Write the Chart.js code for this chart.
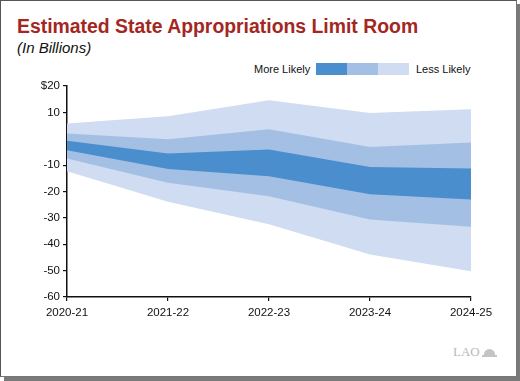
<!DOCTYPE html>
<html>
<head>
<meta charset="utf-8">
<script src="https://cdn.jsdelivr.net/npm/chart.js@4.4.1/dist/chart.umd.min.js"></script>
<style>
  html, body { margin: 0; padding: 0; background: #ffffff; }
  body { width: 520px; height: 381px; position: relative; overflow: hidden; font-family: "Liberation Sans", Arial, Helvetica, sans-serif; }
  #shadow { position: absolute; left: 4px; top: 4px; width: 516px; height: 377px; background: #7a7a7a; }
  #card { position: absolute; left: 0; top: 0; background: #fff; border-top: 1px solid #555; border-left: 1px solid #555; border-right: 1px solid #777; border-bottom: 1px solid #777; box-sizing: border-box; width: 517px; height: 377px; }
  #title { position: absolute; left: 17px; top: 15px; font-size: 19.4px; font-weight: bold; color: #A3271F; white-space: nowrap; }
  #subtitle { position: absolute; left: 17px; top: 39px; font-size: 15px; font-style: italic; color: #111; white-space: nowrap; }
  #legend { position: absolute; top: 62px; left: 254px; font-size: 11px; color: #111; white-space: nowrap; }
  #legend span { position: absolute; top: 1px; }
  .sw { position: absolute; top: 1px; height: 12px; width: 31px; }
  #lao { position: absolute; left: 453px; top: 344px; font-family: "Liberation Serif", "DejaVu Serif", serif; font-size: 13px; color: #b8b8b8; }
  #laoicon { position: absolute; left: 484px; top: 349px; width: 11px; height: 6px; border-top-left-radius: 6px 6px; border-top-right-radius: 6px 6px; background: #c4c4c4; }
  #laobase { position: absolute; left: 482px; top: 355px; width: 15px; height: 2px; background: #c4c4c4; }
  canvas { position: absolute; left: 0; top: 0; }
</style>
</head>
<body>
<div id="shadow"></div>
<div id="card"></div>
<div id="title">Estimated State Appropriations Limit Room</div>
<div id="subtitle">(In Billions)</div>
<div id="legend">
  <span style="left:0px;">More Likely</span>
  <div class="sw" style="left:62px; background:#4B8ECD;"></div>
  <div class="sw" style="left:93px; background:#A4BFE4;"></div>
  <div class="sw" style="left:124px; background:#CFDCF1;"></div>
  <span style="left:162px;">Less Likely</span>
</div>
<div id="lao">LAO</div>
<div id="laoicon"></div>
<div id="laobase"></div>
<canvas id="c" width="520" height="381"></canvas>
<script>
const categories = ["2020-21", "2021-22", "2022-23", "2023-24", "2024-25"];
const outerTop    = [5.8,   8.5,  14.6,   9.8,  11.2];
const midTop      = [2.0,  -0.2,   3.6,  -3.1,  -1.4];
const innerTop    = [-0.8, -5.6,  -4.1, -10.7, -11.3];
const innerBottom = [-4.4, -11.5, -14.2, -21.0, -23.0];
const midBottom   = [-7.5, -16.7, -21.8, -30.6, -33.4];
const outerBottom = [-12.3, -23.9, -32.4, -43.9, -50.2];
const yTicks = [20, 10, 0, -10, -20, -30, -40, -50, -60];

const DARK = "#4B8ECD", MID = "#A4BFE4", LIGHT = "#CFDCF1";
function band(data, fill, color) {
  return { data: data, fill: fill, backgroundColor: color, borderWidth: 0, pointRadius: 0, tension: 0, borderColor: "rgba(0,0,0,0)" };
}

new Chart(document.getElementById("c"), {
  type: "line",
  data: {
    labels: categories,
    datasets: [
      band(innerTop, 1, DARK),
      band(innerBottom, false, DARK),
      band(midTop, 3, MID),
      band(midBottom, false, MID),
      band(outerTop, 5, LIGHT),
      band(outerBottom, false, LIGHT)
    ]
  },
  options: {
    responsive: false,
    animation: false,
    layout: { padding: { left: 0, right: 49, top: 86, bottom: 0 } },
    plugins: { legend: { display: false }, tooltip: { enabled: false } },
    scales: {
      x: {
        offset: false,
        grid: { drawOnChartArea: false, color: "#111", tickLength: 4, lineWidth: 1.2 },
        border: { display: true, color: "#111", width: 1.5 },
        ticks: { color: "#111", font: { family: "Liberation Sans, Arial", size: 11.5 }, padding: 5, maxRotation: 0, autoSkip: false },
        afterFit: function (s) { s.height = 84; }
      },
      y: {
        min: -60, max: 20,
        afterBuildTicks: function (s) { s.ticks = yTicks.map(function (v) { return { value: v }; }); },
        grid: {
          drawOnChartArea: false, tickLength: 4, lineWidth: 1.2,
          tickColor: function (ctx) { return ctx.tick && ctx.tick.value === 0 ? "rgba(0,0,0,0)" : "#111"; }
        },
        border: { display: true, color: "#111", width: 1.5 },
        ticks: {
          color: "#111", font: { family: "Liberation Sans, Arial", size: 11.5 }, padding: 3,
          callback: function (v) { return v === 20 ? "$20" : (v === 0 ? "" : String(v)); }
        },
        afterFit: function (s) { s.width = 67; }
      }
    }
  }
});
</script>
</body>
</html>
